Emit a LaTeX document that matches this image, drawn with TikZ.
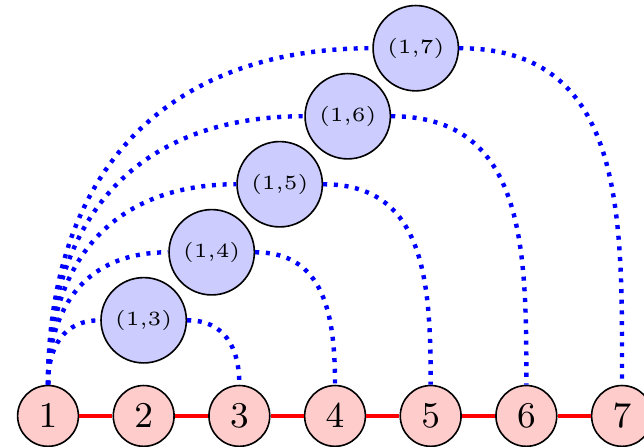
\documentclass[tikz,border=0pt]{standalone}
\begin{document}
\begin{tikzpicture}[x=0.834cm, y=0.834cm,
		vtx/.style={circle, draw, fill=red!20, inner sep=0pt, minimum size=0.53cm, font=\small},
		pair/.style={circle, draw, fill=blue!20, inner sep=0pt, minimum size=0.744cm, font=\tiny},
		chain/.style={red, line width=1pt},
		link/.style={blue, line width=1.1pt, dash pattern=on 1pt off 1.65pt, looseness=1.15}]
		\useasboundingbox (-0.502,-0.324) rectangle (6.23,4.348);
		% path on seven vertices
		\node[vtx] (v1) at (0,0) {$1$};
		\node[vtx] (v2) at (1,0) {$2$};
		\node[vtx] (v3) at (2,0) {$3$};
		\node[vtx] (v4) at (3,0) {$4$};
		\node[vtx] (v5) at (4,0) {$5$};
		\node[vtx] (v6) at (5,0) {$6$};
		\node[vtx] (v7) at (6,0) {$7$};

		\draw[chain] (v1) -- (v2);
		\draw[chain] (v2) -- (v3);
		\draw[chain] (v3) -- (v4);
		\draw[chain] (v4) -- (v5);
		\draw[chain] (v5) -- (v6);
		\draw[chain] (v6) -- (v7);

		% pairs (1,k) stacked along the diagonal
		\node[pair] (p13) at (1,1) {(1,3)};
		\node[pair] (p14) at (1.711,1.711) {(1,4)};
		\node[pair] (p15) at (2.422,2.422) {(1,5)};
		\node[pair] (p16) at (3.133,3.133) {(1,6)};
		\node[pair] (p17) at (3.844,3.844) {(1,7)};

		\draw[link] (v1.north) to[out=90,in=180] (p13.west);
		\draw[link] (p13.east) to[out=0,in=90] (v3.north);
		\draw[link] (v1.north) to[out=90,in=180] (p14.west);
		\draw[link] (p14.east) to[out=0,in=90] (v4.north);
		\draw[link] (v1.north) to[out=90,in=180] (p15.west);
		\draw[link] (p15.east) to[out=0,in=90] (v5.north);
		\draw[link] (v1.north) to[out=90,in=180] (p16.west);
		\draw[link] (p16.east) to[out=0,in=90] (v6.north);
		\draw[link] (v1.north) to[out=90,in=180] (p17.west);
		\draw[link] (p17.east) to[out=0,in=90] (v7.north);
\end{tikzpicture}
\end{document}
